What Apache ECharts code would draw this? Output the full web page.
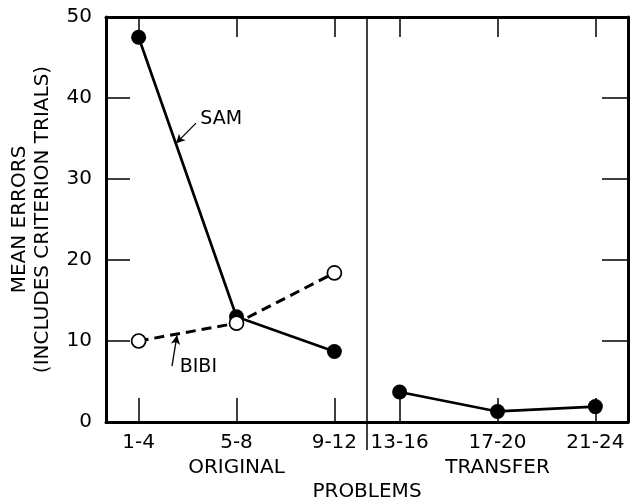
<!DOCTYPE html>
<html>
<head>
<meta charset="utf-8">
<script src="https://cdn.jsdelivr.net/npm/echarts@6/dist/echarts.min.js"></script>
<style>html,body{margin:0;padding:0;background:#fff;}#c{width:631px;height:503px;}</style>
</head>
<body>
<div id="c"></div>
<script>
// ---- data ----
const origCats = ['1-4', '5-8', '9-12'];
const transCats = ['13-16', '17-20', '21-24'];
const samOrig = [47.5, 13.0, 8.7];
const samTrans = [3.7, 1.3, 1.9];
const bibiOrig = [10.0, 12.2, 18.4];
const yMin = 0, yMax = 50, yStep = 10;

// ---- layout ----
const FONT = '"DejaVu Sans", sans-serif';
const FS = 19;
const FS2 = 20;
const G = { top: 17, h: 405, l1: 106, w: 261 };
const divX = G.l1 + G.w;
const idx = [0, 1, 2];
const xMin = -1 / 3, xMax = 7 / 3;

const chart = echarts.init(document.getElementById('c'), null, { renderer: 'canvas' });

function bottomX(grid, cats, name) {
  return {
    gridIndex: grid, type: 'value', position: 'bottom', min: xMin, max: xMax,
    axisLine: { show: true, onZero: false, lineStyle: { color: '#000', width: 3 } },
    axisTick: { show: true, inside: true, length: 24, customValues: idx, lineStyle: { color: '#000', width: 1.5 } },
    axisLabel: { show: true, customValues: idx, margin: 11, color: '#000', fontSize: FS2, fontFamily: FONT,
      formatter: v => cats[Math.round(v)] },
    splitLine: { show: false },
    name: name, nameLocation: 'middle', nameGap: 35,
    nameTextStyle: { color: '#000', fontSize: FS2, fontFamily: FONT }
  };
}
function topX(grid) {
  return {
    gridIndex: grid, type: 'value', position: 'top', min: xMin, max: xMax,
    axisLine: { show: true, onZero: false, lineStyle: { color: '#000', width: 3 } },
    axisTick: { show: true, inside: true, length: 20, customValues: idx, lineStyle: { color: '#000', width: 1.5 } },
    axisLabel: { show: false }, splitLine: { show: false }
  };
}

const option = {
  animation: false,
  backgroundColor: '#fff',
  grid: [
    { left: G.l1, top: G.top, width: G.w, height: G.h, containLabel: false },
    { left: divX, top: G.top, width: G.w, height: G.h, containLabel: false }
  ],
  xAxis: [bottomX(0, origCats, 'ORIGINAL'), topX(0), bottomX(1, transCats, 'TRANSFER'), topX(1)],
  yAxis: [
    {
      gridIndex: 0, type: 'value', position: 'left', min: yMin, max: yMax, interval: yStep,
      axisLine: { show: true, onZero: false, lineStyle: { color: '#000', width: 3 } },
      axisTick: { show: true, inside: true, length: 24, lineStyle: { color: '#000', width: 1.5 } },
      axisLabel: { show: true, margin: 14, color: '#000', fontSize: FS2, fontFamily: FONT },
      splitLine: { show: false },
      name: 'MEAN ERRORS\n(INCLUDES CRITERION TRIALS)', nameLocation: 'middle', nameRotate: 90, nameGap: 52,
      nameTextStyle: { color: '#000', fontSize: FS2, fontFamily: FONT, lineHeight: 23 }
    },
    {
      gridIndex: 1, type: 'value', position: 'right', min: yMin, max: yMax, interval: yStep,
      axisLine: { show: true, onZero: false, lineStyle: { color: '#000', width: 3 } },
      axisTick: { show: true, inside: true, length: 26, lineStyle: { color: '#000', width: 1.5 } },
      axisLabel: { show: false }, splitLine: { show: false }
    }
  ],
  series: [
    {
      name: 'SAM', type: 'line', xAxisIndex: 0, yAxisIndex: 0,
      data: origCats.map((c, i) => [i, samOrig[i]]),
      symbol: 'circle', symbolSize: 15,
      itemStyle: { color: '#000' }, lineStyle: { color: '#000', width: 2.7 },
      markLine: {
        silent: true, symbol: ['none', 'arrow'], symbolSize: [7, 9],
        lineStyle: { color: '#000', width: 1.3, type: 'solid' }, label: { show: false },
        data: [[{ coord: [0.586, 36.9] }, { coord: [0.382, 34.4] }]]
      },
      z: 3
    },
    {
      name: 'SAM transfer', type: 'line', xAxisIndex: 2, yAxisIndex: 1,
      data: transCats.map((c, i) => [i, samTrans[i]]),
      symbol: 'circle', symbolSize: 15,
      itemStyle: { color: '#000' }, lineStyle: { color: '#000', width: 2.7 },
      z: 3
    },
    {
      name: 'BIBI', type: 'line', xAxisIndex: 0, yAxisIndex: 0,
      data: origCats.map((c, i) => [i, bibiOrig[i]]),
      symbol: 'circle', symbolSize: 14, showAllSymbol: true,
      itemStyle: { color: '#fff', borderColor: '#000', borderWidth: 1.7 },
      lineStyle: { color: '#000', width: 3, type: [10, 6] },
      markLine: {
        silent: true, symbol: ['none', 'arrow'], symbolSize: [7, 9],
        lineStyle: { color: '#000', width: 1.3, type: 'solid' }, label: { show: false },
        data: [[{ coord: [0.341, 6.9] }, { coord: [0.392, 10.7] }]]
      },
      z: 4
    }
  ]
};
chart.setOption(option);

const pSam = chart.convertToPixel({ xAxisIndex: 0, yAxisIndex: 0 }, [0.63, 37.4]);
const pBibi = chart.convertToPixel({ xAxisIndex: 0, yAxisIndex: 0 }, [0.42, 6.8]);
chart.setOption({
  graphic: [
    { type: 'line', shape: { x1: divX, y1: G.top, x2: divX, y2: 450 }, style: { stroke: '#000', lineWidth: 1.5 }, z: 10 },
    { type: 'text', x: pSam[0], y: pSam[1], style: { text: 'SAM', fill: '#000', font: FS + 'px ' + FONT, textAlign: 'left', textVerticalAlign: 'middle' }, z: 10 },
    { type: 'text', x: pBibi[0], y: pBibi[1], style: { text: 'BIBI', fill: '#000', font: FS + 'px ' + FONT, textAlign: 'left', textVerticalAlign: 'middle' }, z: 10 },
    { type: 'text', x: divX, y: 492, style: { text: 'PROBLEMS', fill: '#000', font: FS2 + 'px ' + FONT, textAlign: 'center', textVerticalAlign: 'middle' }, z: 10 }
  ]
});
</script>
</body>
</html>
